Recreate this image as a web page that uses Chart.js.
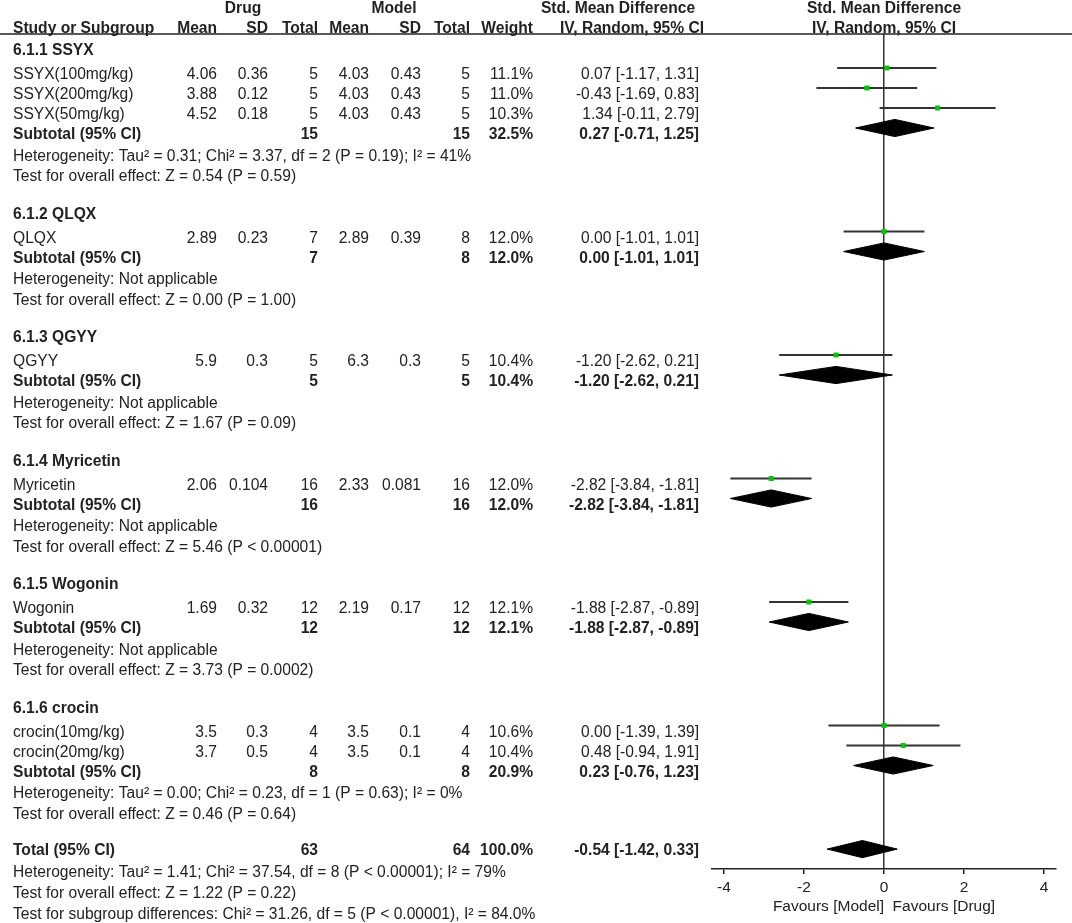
<!DOCTYPE html>
<html>
<head>
<meta charset="utf-8">
<title>Forest plot - Std. Mean Difference</title>
<script src="https://cdn.jsdelivr.net/npm/chart.js@4.4.1/dist/chart.umd.min.js"></script>
<style>
  body { margin: 0; background: #fff; }
  #wrap { width: 1072px; height: 923px; position: relative; }
</style>
</head>
<body>
<div id="wrap"><canvas id="forest"></canvas></div>
<script>
'use strict';

// ---- data ----
var studyNames = ['SSYX(100mg/kg)', 'SSYX(200mg/kg)', 'SSYX(50mg/kg)', 'QLQX', 'QGYY',
	'Myricetin', 'Wogonin', 'crocin(10mg/kg)', 'crocin(20mg/kg)'];
var studyGroup = [0, 0, 0, 1, 2, 3, 4, 5, 5];
var drugMean = [4.06, 3.88, 4.52, 2.89, 5.9, 2.06, 1.69, 3.5, 3.7];
var drugSD = [0.36, 0.12, 0.18, 0.23, 0.3, 0.104, 0.32, 0.3, 0.5];
var drugN = [5, 5, 5, 7, 5, 16, 12, 4, 4];
var modelMean = [4.03, 4.03, 4.03, 2.89, 6.3, 2.33, 2.19, 3.5, 3.5];
var modelSD = [0.43, 0.43, 0.43, 0.39, 0.3, 0.081, 0.17, 0.1, 0.1];
var modelN = [5, 5, 5, 8, 5, 16, 12, 4, 4];
var weight = [11.1, 11.0, 10.3, 12.0, 10.4, 12.0, 12.1, 10.6, 10.4];
var smd = [0.07, -0.43, 1.34, 0.00, -1.20, -2.82, -1.88, 0.00, 0.48];
var ciLow = [-1.17, -1.69, -0.11, -1.01, -2.62, -3.84, -2.87, -1.39, -0.94];
var ciHigh = [1.31, 0.83, 2.79, 1.01, 0.21, -1.81, -0.89, 1.39, 1.91];

var groupNames = ['6.1.1 SSYX', '6.1.2 QLQX', '6.1.3 QGYY', '6.1.4 Myricetin', '6.1.5 Wogonin', '6.1.6 crocin'];
var subDrugN = [15, 7, 5, 16, 12, 8];
var subModelN = [15, 8, 5, 16, 12, 8];
var subWeight = [32.5, 12.0, 10.4, 12.0, 12.1, 20.9];
var subSmd = [0.27, 0.00, -1.20, -2.82, -1.88, 0.23];
var subLow = [-0.71, -1.01, -2.62, -3.84, -2.87, -0.76];
var subHigh = [1.25, 1.01, 0.21, -1.81, -0.89, 1.23];
var subHetero = [
	'Heterogeneity: Tau\u00b2 = 0.31; Chi\u00b2 = 3.37, df = 2 (P = 0.19); I\u00b2 = 41%',
	'Heterogeneity: Not applicable',
	'Heterogeneity: Not applicable',
	'Heterogeneity: Not applicable',
	'Heterogeneity: Not applicable',
	'Heterogeneity: Tau\u00b2 = 0.00; Chi\u00b2 = 0.23, df = 1 (P = 0.63); I\u00b2 = 0%'
];
var subEffect = [
	'Test for overall effect: Z = 0.54 (P = 0.59)',
	'Test for overall effect: Z = 0.00 (P = 1.00)',
	'Test for overall effect: Z = 1.67 (P = 0.09)',
	'Test for overall effect: Z = 5.46 (P < 0.00001)',
	'Test for overall effect: Z = 3.73 (P = 0.0002)',
	'Test for overall effect: Z = 0.46 (P = 0.64)'
];

var totalDrugN = 63;
var totalModelN = 64;
var totalWeight = 100.0;
var totalSmd = -0.54;
var totalLow = -1.42;
var totalHigh = 0.33;
var totalNotes = [
	'Heterogeneity: Tau\u00b2 = 1.41; Chi\u00b2 = 37.54, df = 8 (P < 0.00001); I\u00b2 = 79%',
	'Test for overall effect: Z = 1.22 (P = 0.22)',
	'Test for subgroup differences: Chi\u00b2 = 31.26, df = 5 (P < 0.00001), I\u00b2 = 84.0%'
];

var tickValues = [-4, -2, 0, 2, 4];
var axisTitle = 'Favours [Model]  Favours [Drug]';

// ---- row layout (in line units) ----
var rows = [];
var studyRow = [];
var subRow = [];
var r = 0;
for (var g = 0; g < groupNames.length; g++) {
	rows.push({ kind: 'group', r: r, g: g });
	r += 1.2;
	for (var i = 0; i < studyNames.length; i++) {
		if (studyGroup[i] !== g) continue;
		studyRow[i] = r;
		rows.push({ kind: 'study', r: r, i: i });
		r += 1;
	}
	subRow[g] = r;
	rows.push({ kind: 'sub', r: r, g: g });
	r += 1.075;
	rows.push({ kind: 'note', r: r, text: subHetero[g] });
	r += 1.025;
	rows.push({ kind: 'note', r: r, text: subEffect[g] });
	r += 1.875;
}
r -= 0.075;
var totalRow = r;
rows.push({ kind: 'total', r: r });
r += 1.1;
for (var k = 0; k < totalNotes.length; k++) {
	rows.push({ kind: 'note', r: r, text: totalNotes[k] });
	r += 1.05;
}

var DH = 0.43;  // diamond half height
var INK = '#222';
var FONT = '"Liberation Sans", Arial, sans-serif';
var TXT_SIZE = 15.6;
var TXT_SHIFT = 7;  // labels sit a little below their marks

function fmt2(v) { return v.toFixed(2); }
function ciText(m, lo, hi) { return fmt2(m) + ' [' + fmt2(lo) + ', ' + fmt2(hi) + ']'; }

// ---- datasets ----
var datasets = [];

datasets.push({
	label: 'estimates',
	data: smd.map(function (v, i) { return { x: v, y: studyRow[i] }; }),
	pointStyle: 'rect',
	pointRadius: 3.5,
	pointHoverRadius: 3.5,
	backgroundColor: '#00c800',
	borderWidth: 0,
	showLine: false
});

for (var s = 0; s < studyNames.length; s++) {
	datasets.push({
		label: studyNames[s],
		data: [{ x: ciLow[s], y: studyRow[s] }, { x: ciHigh[s], y: studyRow[s] }],
		showLine: true,
		borderColor: '#333',
		borderWidth: 1.9,
		pointRadius: 0
	});
}

function addDiamond(m, lo, hi, row) {
	datasets.push({
		data: [{ x: lo, y: row }, { x: m, y: row - DH }, { x: hi, y: row }],
		showLine: true, borderColor: '#000', borderWidth: 1, pointRadius: 0, fill: false
	});
	datasets.push({
		data: [{ x: lo, y: row }, { x: m, y: row + DH }, { x: hi, y: row }],
		showLine: true, borderColor: '#000', borderWidth: 1, pointRadius: 0,
		fill: '-1', backgroundColor: '#000'
	});
}
for (var d = 0; d < groupNames.length; d++) addDiamond(subSmd[d], subLow[d], subHigh[d], subRow[d]);
// the overall diamond sits level with its label in the original
addDiamond(totalSmd, totalLow, totalHigh, totalRow + 0.28);

// ---- table text drawn next to the plot ----
var col = { dMean: 217, dSD: 268, dN: 318, mMean: 369, mSD: 421, mN: 470, w: 533, ci: 699 };

var tablePlugin = {
	id: 'forestTable',
	afterDraw: function (chart) {
		var ctx = chart.ctx;
		var ys = chart.scales.y;
		var x0 = chart.scales.x.getPixelForValue(0);
		ctx.save();
		ctx.fillStyle = INK;
		ctx.textBaseline = 'middle';

		function txt(str, x, y, align, bold) {
			ctx.font = (bold ? 'bold ' : '') + TXT_SIZE + 'px ' + FONT;
			ctx.textAlign = align || 'left';
			ctx.fillText(str, x, y);
		}

		// headers
		txt('Drug', 243, 9, 'center', true);
		txt('Model', 394, 9, 'center', true);
		txt('Std. Mean Difference', 618, 9, 'center', true);
		txt('Std. Mean Difference', x0, 9, 'center', true);
		txt('Study or Subgroup', 13, 29, 'left', true);
		txt('Mean', col.dMean, 29, 'right', true);
		txt('SD', col.dSD, 29, 'right', true);
		txt('Total', col.dN, 29, 'right', true);
		txt('Mean', col.mMean, 29, 'right', true);
		txt('SD', col.mSD, 29, 'right', true);
		txt('Total', col.mN, 29, 'right', true);
		txt('Weight', col.w, 29, 'right', true);
		txt('IV, Random, 95% CI', 632, 29, 'center', true);
		txt('IV, Random, 95% CI', x0, 29, 'center', true);

		ctx.strokeStyle = INK;
		ctx.lineWidth = 1.5;
		ctx.beginPath();
		ctx.moveTo(0, 34);
		ctx.lineTo(chart.width, 34);
		ctx.stroke();

		rows.forEach(function (row) {
			var y = ys.getPixelForValue(row.r) + TXT_SHIFT;
			if (row.kind === 'group') {
				txt(groupNames[row.g], 13, y, 'left', true);
			} else if (row.kind === 'study') {
				var i = row.i;
				txt(studyNames[i], 13, y);
				txt(String(drugMean[i]), col.dMean, y, 'right');
				txt(String(drugSD[i]), col.dSD, y, 'right');
				txt(String(drugN[i]), col.dN, y, 'right');
				txt(String(modelMean[i]), col.mMean, y, 'right');
				txt(String(modelSD[i]), col.mSD, y, 'right');
				txt(String(modelN[i]), col.mN, y, 'right');
				txt(weight[i].toFixed(1) + '%', col.w, y, 'right');
				txt(ciText(smd[i], ciLow[i], ciHigh[i]), col.ci, y, 'right');
			} else if (row.kind === 'sub') {
				var g = row.g;
				txt('Subtotal (95% CI)', 13, y, 'left', true);
				txt(String(subDrugN[g]), col.dN, y, 'right', true);
				txt(String(subModelN[g]), col.mN, y, 'right', true);
				txt(subWeight[g].toFixed(1) + '%', col.w, y, 'right', true);
				txt(ciText(subSmd[g], subLow[g], subHigh[g]), col.ci, y, 'right', true);
			} else if (row.kind === 'total') {
				txt('Total (95% CI)', 13, y, 'left', true);
				txt(String(totalDrugN), col.dN, y, 'right', true);
				txt(String(totalModelN), col.mN, y, 'right', true);
				txt(totalWeight.toFixed(1) + '%', col.w, y, 'right', true);
				txt(ciText(totalSmd, totalLow, totalHigh), col.ci, y, 'right', true);
			} else {
				txt(row.text, 13, y);
			}
		});
		ctx.restore();
	}
};

var chart = new Chart(document.getElementById('forest').getContext('2d'), {
	type: 'scatter',
	data: { datasets: datasets },
	options: {
		responsive: true,
		maintainAspectRatio: false,
		animation: false,
		events: [],
		layout: { padding: { left: 712, right: 16, top: 34, bottom: 0 } },
		plugins: { legend: { display: false }, tooltip: { enabled: false } },
		scales: {
			x: {
				type: 'linear',
				min: -4.3,
				max: 4.3,
				afterBuildTicks: function (scale) {
					scale.ticks = tickValues.map(function (v) { return { value: v }; });
				},
				afterFit: function (scale) { scale.height = 54; },
				border: { display: true, color: INK, width: 1.5 },
				grid: {
					drawOnChartArea: true,
					color: function (c) { return c.tick && c.tick.value === 0 ? '#333' : 'rgba(0,0,0,0)'; },
					lineWidth: 1.5,
					tickColor: INK,
					tickWidth: 1.5,
					tickLength: 5
				},
				ticks: {
					color: INK,
					padding: 4,
					maxRotation: 0,
					font: { family: FONT, size: 15.5 },
					callback: function (v) { return String(v); }
				},
				title: {
					display: true,
					text: axisTitle,
					color: INK,
					font: { family: FONT, size: 15.5 },
					padding: { top: 0, bottom: 7 }
				}
			},
			y: {
				type: 'linear',
				display: false,
				reverse: true,
				min: -0.5,
				max: 41.25
			}
		}
	},
	plugins: [tablePlugin]
});
</script>
</body>
</html>
